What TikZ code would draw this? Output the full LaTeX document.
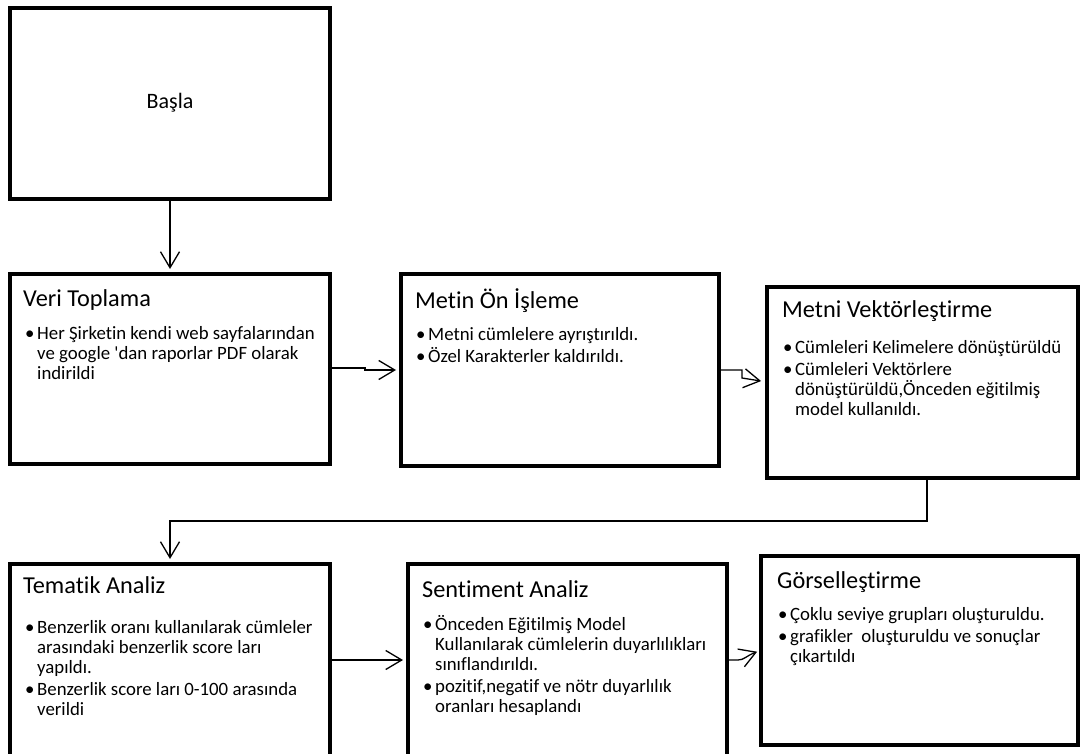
\documentclass[tikz,border=0pt]{standalone}
\usepackage{fontspec}
\setmainfont[Ligatures={TeX,NoCommon}]{Carlito}
\usetikzlibrary{arrows.meta}
\newcommand\bul[1]{\par\hangindent=12pt\hangafter=1\noindent\makebox[12pt][l]{\textbullet}#1}
\newcommand\bodytext[1]{\begin{minipage}[t]{400pt}\setlength\parskip{2.5pt}#1\end{minipage}}
\begin{document}
\begin{tikzpicture}[x=1pt,y=-1pt,
  box/.style={draw, line width=4pt, inner sep=0pt, outer sep=0pt, anchor=north west},
  ttl/.style={anchor=base west, inner sep=0pt, font=\fontsize{24.3}{28}\selectfont},
  body/.style={anchor=base west, inner sep=0pt, font=\fontsize{18.8}{20}\selectfont},
  conn/.style={line width=1.3pt, -{Straight Barb[length=16pt,width=19pt]}, shorten >=5pt}]
\fill[white] (0,0) rectangle (1084,754);
\useasboundingbox (0,0) rectangle (1084,754);
% boxes
\node[box, minimum width=320pt, minimum height=191pt] (basla) at (10,8) {};
\node[font=\fontsize{22}{26}\selectfont, inner sep=0pt] (baslat) at (170,103) {Başla};
\node[box, minimum width=320pt, minimum height=190pt] (veri) at (10,274) {};
\node[box, minimum width=318pt, minimum height=192pt] (metin) at (401,274) {};
\node[box, minimum width=311pt, minimum height=191pt] (vektor) at (767,287) {};
\node[box, minimum width=320pt, minimum height=192pt] (tematik) at (10,564) {};
\node[box, minimum width=319pt, minimum height=192pt] (sentiment) at (408,564) {};
\node[box, minimum width=317pt, minimum height=189pt] (gorsel) at (761,556) {};
% titles
\node[ttl] (veriT) at (23,306) {Veri Toplama};
\node[ttl] (metinT) at (415,308) {Metin Ön İşleme};
\node[ttl] (vektorT) at (782,317) {Metni Vektörleştirme};
\node[ttl] (tematikT) at (23,593) {Tematik Analiz};
\node[ttl] (sentimentT) at (422,597) {Sentiment Analiz};
\node[ttl] (gorselT) at (777,588) {Görselleştirme};
% bodies
\node[body] (veriB) at (25,339) {\bodytext{\bul{Her Şirketin kendi web sayfalarından\newline ve google \textquotesingle dan raporlar PDF olarak\newline indirildi}}};
\node[body] (metinB) at (416,340) {\bodytext{\bul{Metni cümlelere ayrıştırıldı.}\bul{Özel Karakterler kaldırıldı.}}};
\node[body] (vektorB) at (783,353) {\bodytext{\bul{Cümleleri Kelimelere dönüştürüldü}\bul{Cümleleri Vektörlere\newline dönüştürüldü,Önceden eğitilmiş\newline model kullanıldı.}}};
\node[body] (tematikB) at (25,633) {\bodytext{\bul{Benzerlik oranı kullanılarak cümleler\newline arasındaki benzerlik score ları\newline yapıldı.}\bul{Benzerlik score ları 0-100 arasında\newline verildi}}};
\node[body] (sentimentB) at (423,630) {\bodytext{\bul{Önceden Eğitilmiş Model\newline Kullanılarak cümlelerin duyarlılıkları\newline sınıflandırıldı.}\bul{pozitif,negatif ve nötr duyarlılık\newline oranları hesaplandı}}};
\node[body] (gorselB) at (778,620) {\bodytext{\bul{Çoklu seviye grupları oluşturuldu.}\bul{grafikler\ \ oluşturuldu ve sonuçlar\newline çıkartıldı}}};
% connectors
\draw[conn] (basla.south) -- (veri.north);
\coordinate (a1) at (365,368);
\coordinate (a2) at (365,370);
\draw[conn] (veri.east |- a1) -- (a1) -- (a2) -- (metin.west |- a2);
\coordinate (b1) at (742,370);
\coordinate (b2) at (742,378);
\coordinate (b3) at (767,382);
\draw[conn, shorten >=6pt] (metin.east |- b1) -- (b1) -- (b2) -- (b3);
\coordinate (c1) at (927,521);
\draw[conn] (vektor.south -| c1) -- (c1) -- (tematik.north |- c1) -- (tematik.north);
\coordinate (d1) at (408,660);
\draw[conn] (tematik.east |- d1) -- (sentiment.west |- d1);
\coordinate (e1) at (738,660);
\coordinate (e2) at (759,651);
\draw[conn, shorten >=2pt] (sentiment.east |- e1) -- (e1) .. controls (744,660) and (746,656) .. (e2);
\end{tikzpicture}
\end{document}
